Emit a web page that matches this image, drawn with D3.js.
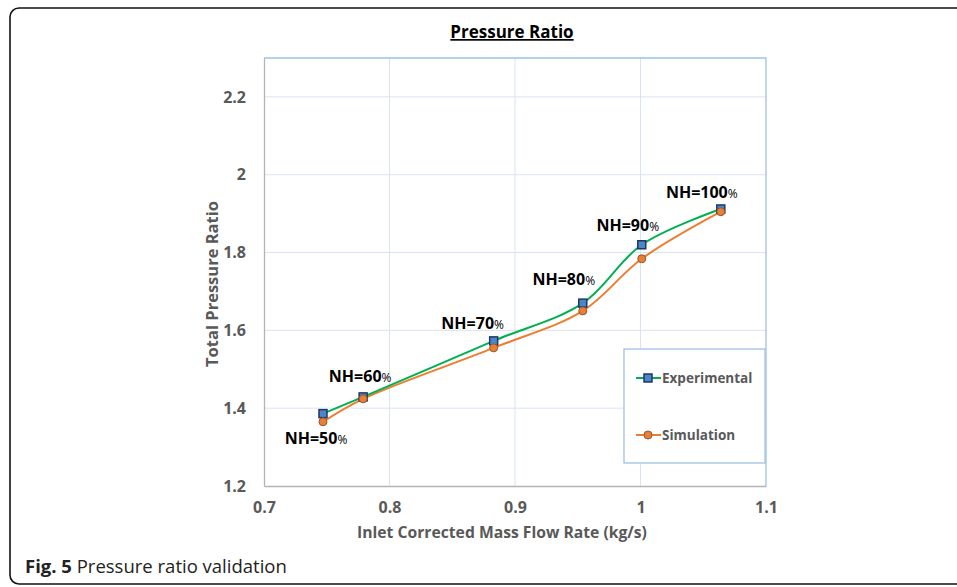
<!doctype html>
<html>
<head>
<meta charset="utf-8" />
<title>Pressure Ratio</title>
<script src="https://cdn.jsdelivr.net/npm/d3@7"></script>
<style>
  html, body { margin: 0; padding: 0; background: #fff; overflow: hidden; }
  svg { display: block; }
</style>
</head>
<body>
<script>
// data
const massFlowExp = [0.747, 0.779, 0.883, 0.954, 1.001, 1.064];
const ratioExp    = [1.386, 1.429, 1.573, 1.670, 1.820, 1.912];
const massFlowSim = [0.747, 0.779, 0.883, 0.954, 1.001, 1.064];
const ratioSim    = [1.365, 1.424, 1.555, 1.650, 1.784, 1.905];
const speedLabels = ["50", "60", "70", "80", "90", "100"];
const xTicks = [0.7, 0.8, 0.9, 1.0, 1.1];
const yTicks = [1.2, 1.4, 1.6, 1.8, 2.0, 2.2];

const W = 957, H = 587;
const font = "'Open Sans', 'Noto Sans', sans-serif";

const svg = d3.select("body").append("svg")
  .attr("width", W).attr("height", H)
  .style("font-family", font);

// outer frame
svg.append("rect")
  .attr("x", 10).attr("y", 8).attr("width", 990).attr("height", 576)
  .attr("rx", 9).attr("fill", "none")
  .attr("stroke", "#111").attr("stroke-width", 1.6);

const plot = {left: 264, right: 766, top: 58, bottom: 486};
const x = d3.scaleLinear().domain([0.7, 1.1]).range([plot.left, plot.right]);
const y = d3.scaleLinear().domain([1.2, 2.3]).range([plot.bottom, plot.top]);

// title
svg.append("text")
  .attr("x", 512).attr("y", 38)
  .attr("text-anchor", "middle")
  .attr("font-size", 17).attr("font-weight", "bold")
  .attr("fill", "#000")
  .attr("text-decoration", "underline")
  .text("Pressure Ratio");

// grid
const grid = svg.append("g");
grid.selectAll("line.h").data(yTicks.slice(1)).join("line")
  .attr("x1", plot.left).attr("x2", plot.right)
  .attr("y1", d => y(d)).attr("y2", d => y(d))
  .attr("stroke", "#dae3f0").attr("stroke-width", 1);
grid.selectAll("line.v").data(xTicks.slice(1, -1)).join("line")
  .attr("x1", d => x(d)).attr("x2", d => x(d))
  .attr("y1", plot.top).attr("y2", plot.bottom)
  .attr("stroke", "#dae3f0").attr("stroke-width", 1);

// plot frame (light blue on top and right)
svg.append("path")
  .attr("d", `M${plot.left},${plot.top}H${plot.right}V${plot.bottom}`)
  .attr("fill", "none").attr("stroke", "#9dc3e6").attr("stroke-width", 1.3);

// axes
const xAxis = svg.append("g")
  .attr("transform", `translate(0,${plot.bottom})`)
  .call(d3.axisBottom(x).tickValues(xTicks).tickSize(0).tickPadding(16)
    .tickFormat(d => d === 1 ? "1" : d3.format(".1f")(d)));
const yAxis = svg.append("g")
  .attr("transform", `translate(${plot.left},0)`)
  .call(d3.axisLeft(y).tickValues(yTicks).tickSize(0).tickPadding(18)
    .tickFormat(d => d === 2 ? "2" : d3.format(".1f")(d)));
[xAxis, yAxis].forEach(a => {
  a.select(".domain").attr("stroke", "#b4b4b4").attr("stroke-width", 1.3);
  a.selectAll("text")
    .attr("font-family", font).attr("font-size", 16)
    .attr("font-weight", "bold").attr("fill", "#595959");
});

// axis titles
svg.append("text")
  .attr("x", 502).attr("y", 538)
  .attr("text-anchor", "middle")
  .attr("font-size", 15.7).attr("font-weight", "bold").attr("fill", "#595959")
  .text("Inlet Corrected Mass Flow Rate (kg/s)");
svg.append("text")
  .attr("transform", "translate(218,284) rotate(-90)")
  .attr("text-anchor", "middle")
  .attr("font-size", 16.5).attr("font-weight", "bold").attr("fill", "#595959")
  .text("Total Pressure Ratio");

// series
const expData = massFlowExp.map((m, i) => ({m, r: ratioExp[i]}));
const simData = massFlowSim.map((m, i) => ({m, r: ratioSim[i]}));
const line = d3.line().x(d => x(d.m)).y(d => y(d.r)).curve(d3.curveCatmullRom.alpha(0.5));

svg.append("path").datum(simData).attr("d", line)
  .attr("fill", "none").attr("stroke", "#ed7d31").attr("stroke-width", 2);
svg.append("path").datum(expData).attr("d", line)
  .attr("fill", "none").attr("stroke", "#00b050").attr("stroke-width", 2);

function square(g, cx, cy) {
  g.append("rect").attr("x", cx - 4).attr("y", cy - 4).attr("width", 8).attr("height", 8)
    .attr("fill", "#4a86c8").attr("stroke", "#1f3864").attr("stroke-width", 1.5);
}
function circle(g, cx, cy) {
  g.append("circle").attr("cx", cx).attr("cy", cy).attr("r", 4)
    .attr("fill", "#ed7d31").attr("stroke", "#8a5a3a").attr("stroke-width", 1);
}
const marks = svg.append("g");
expData.forEach(d => square(marks, x(d.m), y(d.r)));
simData.forEach(d => circle(marks, x(d.m), y(d.r)));

// NH labels (offsets relative to experimental point)
const labelOffsets = [[-7, 30], [-3, -15], [-21, -12], [-19, -18], [-14, -14], [-19, -11]];
const labels = svg.append("g");
expData.forEach((d, i) => {
  const t = labels.append("text")
    .attr("x", x(d.m) + labelOffsets[i][0]).attr("y", y(d.r) + labelOffsets[i][1])
    .attr("text-anchor", "middle")
    .attr("fill", "#000");
  t.append("tspan").attr("font-size", 16).attr("font-weight", "bold").text("NH=" + speedLabels[i]);
  t.append("tspan").attr("font-size", 12).text("%");
});

// legend
const leg = svg.append("g");
leg.append("rect").attr("x", 624).attr("y", 349).attr("width", 141).attr("height", 114)
  .attr("fill", "#fff").attr("stroke", "#9dc3e6").attr("stroke-width", 1.3);
[["Experimental", "#00b050", square, 378], ["Simulation", "#ed7d31", circle, 435]].forEach(([name, col, mk, ly]) => {
  leg.append("line").attr("x1", 636).attr("x2", 661).attr("y1", ly).attr("y2", ly)
    .attr("stroke", col).attr("stroke-width", 2);
  mk(leg, 648, ly);
  leg.append("text").attr("x", 662).attr("y", ly + 5)
    .attr("font-size", 13.5).attr("font-weight", "bold").attr("fill", "#595959")
    .text(name);
});

// caption
const cap = svg.append("text").attr("x", 25).attr("y", 573)
  .attr("font-size", 18.5).attr("fill", "#222");
cap.append("tspan").attr("font-weight", "bold").text("Fig. 5");
cap.append("tspan").text(" Pressure ratio validation");
</script>
</body>
</html>
